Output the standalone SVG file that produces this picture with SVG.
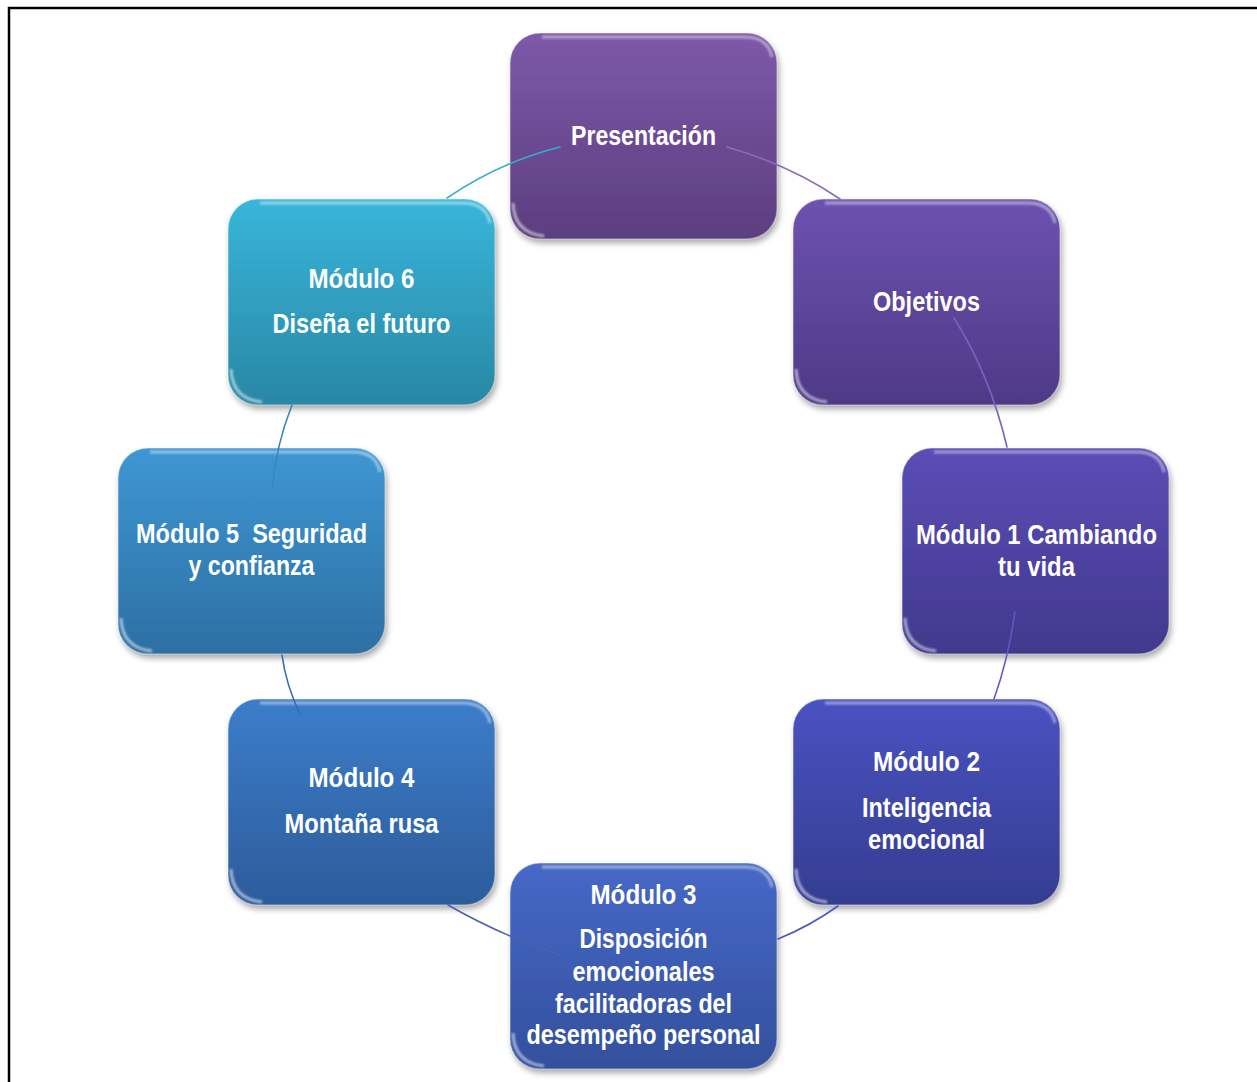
<svg xmlns="http://www.w3.org/2000/svg" xmlns:xlink="http://www.w3.org/1999/xlink" width="1257" height="1082" viewBox="0 0 1257 1082">
  <style>
    .lbl { font-family: "Liberation Sans Narrow", "Liberation Sans", Arial, sans-serif; font-weight: bold; font-size: 27px; fill: #ffffff; text-anchor: middle; }
    .edge { fill: none; stroke-width: 1.6; stroke-linecap: round; }
    .rim { fill: none; stroke: #ffffff; stroke-opacity: 0.35; stroke-width: 1.5; }
  </style>
  <defs>
    <filter id="shadow" x="-10%" y="-10%" width="125%" height="130%">
      <feGaussianBlur in="SourceAlpha" stdDeviation="3"/>
      <feOffset dx="2" dy="4" result="b"/>
      <feComponentTransfer><feFuncA type="linear" slope="0.35"/></feComponentTransfer>
      <feMerge><feMergeNode/><feMergeNode in="SourceGraphic"/></feMerge>
    </filter>
    <filter id="soft" x="-10%" y="-50%" width="120%" height="200%">
      <feGaussianBlur stdDeviation="1.2"/>
    </filter>
    <rect id="box" x="0" y="0" width="267" height="206" rx="30" ry="30"/>
    <!-- glossy top band and bottom-left sheen shared by every box -->
    <g id="gloss">
      <path d="M32,4 H235 Q258,4 262,24" fill="none" stroke="#ffffff" stroke-opacity="0.45" stroke-width="3" filter="url(#soft)"/>
      <path d="M3,170 Q4,200 34,203" fill="none" stroke="#ffffff" stroke-opacity="0.55" stroke-width="3" filter="url(#soft)"/>
      <use xlink:href="#box" class="rim"/>
    </g>
    <linearGradient id="gPres" x1="0" y1="0" x2="0" y2="1"><stop offset="0" stop-color="#7d59a9"/><stop offset="1" stop-color="#5c3e7f"/></linearGradient>
    <linearGradient id="gObj" x1="0" y1="0" x2="0" y2="1"><stop offset="0" stop-color="#6d52b0"/><stop offset="1" stop-color="#4d3a87"/></linearGradient>
    <linearGradient id="gM1" x1="0" y1="0" x2="0" y2="1"><stop offset="0" stop-color="#5b4db7"/><stop offset="1" stop-color="#41398d"/></linearGradient>
    <linearGradient id="gM2" x1="0" y1="0" x2="0" y2="1"><stop offset="0" stop-color="#4a52c1"/><stop offset="1" stop-color="#343d91"/></linearGradient>
    <linearGradient id="gM3" x1="0" y1="0" x2="0" y2="1"><stop offset="0" stop-color="#4668c7"/><stop offset="1" stop-color="#33509d"/></linearGradient>
    <linearGradient id="gM4" x1="0" y1="0" x2="0" y2="1"><stop offset="0" stop-color="#3c7dca"/><stop offset="1" stop-color="#2c5c9b"/></linearGradient>
    <linearGradient id="gM5" x1="0" y1="0" x2="0" y2="1"><stop offset="0" stop-color="#3d97d3"/><stop offset="1" stop-color="#2d6fa3"/></linearGradient>
    <linearGradient id="gM6" x1="0" y1="0" x2="0" y2="1"><stop offset="0" stop-color="#38b6da"/><stop offset="1" stop-color="#2987a5"/></linearGradient>
  </defs>

  <rect width="1257" height="1082" fill="#ffffff"/>
  <!-- page frame -->
  <path d="M9,1082 V8 H1257" fill="none" stroke="#000000" stroke-width="2.5"/>

  <g id="node-presentacion" transform="translate(510,33)">
    <use xlink:href="#box" fill="url(#gPres)" filter="url(#shadow)"/>
    <use xlink:href="#gloss"/>
    <text class="lbl" x="133.5" y="112" textLength="145" lengthAdjust="spacingAndGlyphs">Presentación</text>
  </g>

  <g id="node-objetivos" transform="translate(793,199)">
    <use xlink:href="#box" fill="url(#gObj)" filter="url(#shadow)"/>
    <use xlink:href="#gloss"/>
    <text class="lbl" x="133.5" y="112" textLength="107" lengthAdjust="spacingAndGlyphs">Objetivos</text>
  </g>

  <g id="node-modulo1" transform="translate(902,448)">
    <use xlink:href="#box" fill="url(#gM1)" filter="url(#shadow)"/>
    <use xlink:href="#gloss"/>
    <text class="lbl" x="134.5" y="96" textLength="241" lengthAdjust="spacingAndGlyphs">Módulo 1 Cambiando</text>
    <text class="lbl" x="134.5" y="128" textLength="77" lengthAdjust="spacingAndGlyphs">tu vida</text>
  </g>

  <g id="node-modulo2" transform="translate(793,699)">
    <use xlink:href="#box" fill="url(#gM2)" filter="url(#shadow)"/>
    <use xlink:href="#gloss"/>
    <text class="lbl" x="133.5" y="72" textLength="107" lengthAdjust="spacingAndGlyphs">Módulo 2</text>
    <text class="lbl" x="133.5" y="118" textLength="129" lengthAdjust="spacingAndGlyphs">Inteligencia</text>
    <text class="lbl" x="133.5" y="150" textLength="117" lengthAdjust="spacingAndGlyphs">emocional</text>
  </g>

  <g id="node-modulo3" transform="translate(510,863)">
    <use xlink:href="#box" fill="url(#gM3)" filter="url(#shadow)"/>
    <use xlink:href="#gloss"/>
    <text class="lbl" x="133.5" y="41" textLength="106" lengthAdjust="spacingAndGlyphs">Módulo 3</text>
    <text class="lbl" x="133.5" y="85" textLength="128" lengthAdjust="spacingAndGlyphs">Disposición</text>
    <text class="lbl" x="133.5" y="118" textLength="142" lengthAdjust="spacingAndGlyphs">emocionales</text>
    <text class="lbl" x="133.5" y="150" textLength="177" lengthAdjust="spacingAndGlyphs">facilitadoras del</text>
    <text class="lbl" x="133.5" y="181" textLength="234" lengthAdjust="spacingAndGlyphs">desempeño personal</text>
  </g>

  <g id="node-modulo4" transform="translate(228,699)">
    <use xlink:href="#box" fill="url(#gM4)" filter="url(#shadow)"/>
    <use xlink:href="#gloss"/>
    <text class="lbl" x="133.5" y="88" textLength="106" lengthAdjust="spacingAndGlyphs">Módulo 4</text>
    <text class="lbl" x="133.5" y="134" textLength="154" lengthAdjust="spacingAndGlyphs">Montaña rusa</text>
  </g>

  <g id="node-modulo5" transform="translate(118,448)">
    <use xlink:href="#box" fill="url(#gM5)" filter="url(#shadow)"/>
    <use xlink:href="#gloss"/>
    <text class="lbl" x="133.5" y="95" textLength="231" lengthAdjust="spacingAndGlyphs" xml:space="preserve">Módulo 5  Seguridad</text>
    <text class="lbl" x="133.5" y="127" textLength="126" lengthAdjust="spacingAndGlyphs">y confianza</text>
  </g>

  <g id="node-modulo6" transform="translate(228,199)">
    <use xlink:href="#box" fill="url(#gM6)" filter="url(#shadow)"/>
    <use xlink:href="#gloss"/>
    <text class="lbl" x="133.5" y="89" textLength="106" lengthAdjust="spacingAndGlyphs">Módulo 6</text>
    <text class="lbl" x="133.5" y="134" textLength="178" lengthAdjust="spacingAndGlyphs">Diseña el futuro</text>
  </g>

  <!-- cycle arcs between consecutive modules -->
  <g id="connectors">
    <path class="edge" stroke="#8a6cb8" d="M727,147 Q790,165 840,199"/>
    <path class="edge" stroke="#7a62c0" d="M954,318 Q990,375 1007,447"/>
    <path class="edge" stroke="#5f58c4" d="M1015,612 Q1008,660 994,699"/>
    <path class="edge" stroke="#4a58c0" d="M838,906 Q810,926 778,939"/>
    <path class="edge" stroke="#4a62b0" d="M560,955 Q500,935 448,905"/>
    <path class="edge" stroke="#3a6ab0" d="M300,714 Q286,685 282,655"/>
    <path class="edge" stroke="#3a86bc" d="M272,490 Q276,445 292,405"/>
    <path class="edge" stroke="#3aaccc" d="M447,198 Q500,162 560,147"/>
  </g>
</svg>
